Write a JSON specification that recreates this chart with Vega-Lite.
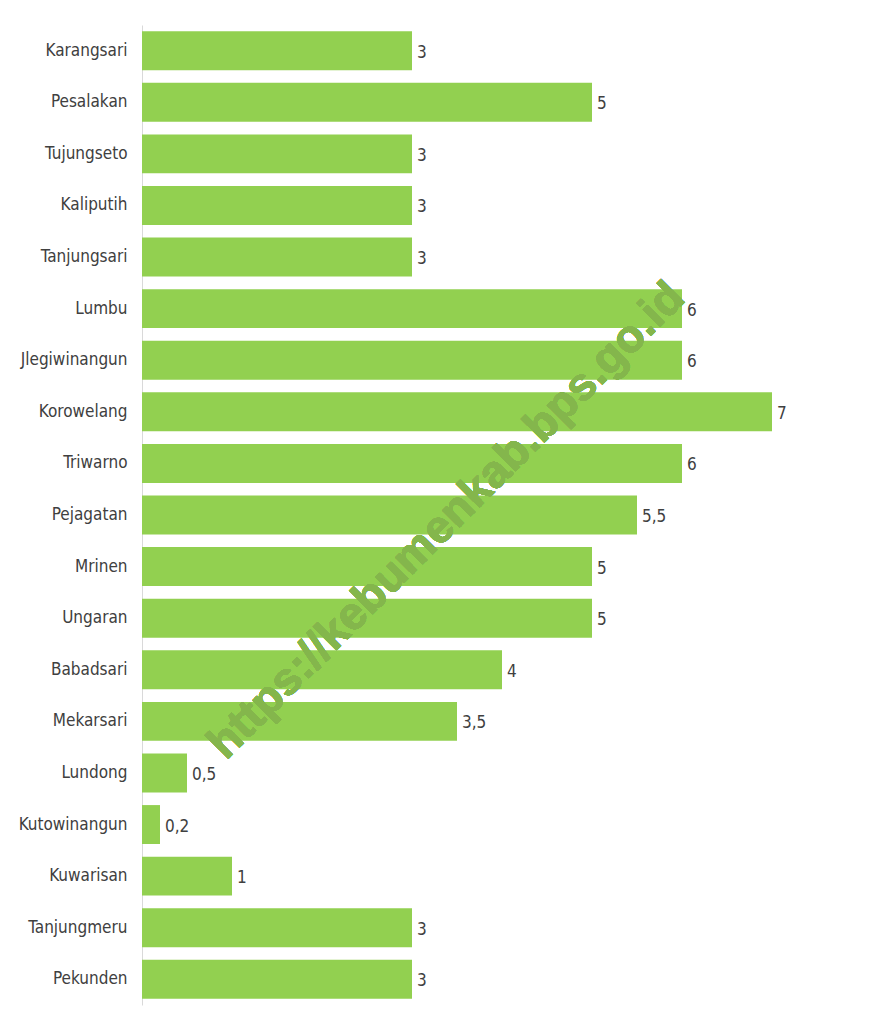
{
  "$schema": "https://vega.github.io/schema/vega-lite/v6.json",
  "width": 720,
  "height": 980,
  "autosize": {"type": "none"},
  "padding": {"left": 142, "top": 25, "right": 9, "bottom": 20},
  "background": "white",
  "config": {
    "view": {"stroke": null},
    "locale": {"number": {"decimal": ",", "thousands": ".", "grouping": [3], "currency": ["", ""]}}
  },
  "data": {
    "values": [
      {"desa": "Karangsari", "nilai": 3},
      {"desa": "Pesalakan", "nilai": 5},
      {"desa": "Tujungseto", "nilai": 3},
      {"desa": "Kaliputih", "nilai": 3},
      {"desa": "Tanjungsari", "nilai": 3},
      {"desa": "Lumbu", "nilai": 6},
      {"desa": "Jlegiwinangun", "nilai": 6},
      {"desa": "Korowelang", "nilai": 7},
      {"desa": "Triwarno", "nilai": 6},
      {"desa": "Pejagatan", "nilai": 5.5},
      {"desa": "Mrinen", "nilai": 5},
      {"desa": "Ungaran", "nilai": 5},
      {"desa": "Babadsari", "nilai": 4},
      {"desa": "Mekarsari", "nilai": 3.5},
      {"desa": "Lundong", "nilai": 0.5},
      {"desa": "Kutowinangun", "nilai": 0.2},
      {"desa": "Kuwarisan", "nilai": 1},
      {"desa": "Tanjungmeru", "nilai": 3},
      {"desa": "Pekunden", "nilai": 3}
    ]
  },
  "encoding": {
    "y": {
      "field": "desa",
      "type": "nominal",
      "sort": null,
      "scale": {"paddingInner": 0.245, "paddingOuter": 0.12},
      "axis": {
        "title": null,
        "ticks": false,
        "domainColor": "#d9d9d9",
        "domainWidth": 1,
        "labelFont": "DejaVu Sans Condensed, Roboto, sans-serif",
        "labelFontSize": 17,
        "labelColor": "#404040",
        "labelPadding": 15
      }
    },
    "x": {
      "field": "nilai",
      "type": "quantitative",
      "scale": {"domain": [0, 8]},
      "axis": null
    }
  },
  "layer": [
    {"mark": {"type": "bar", "color": "#92d050"}},
    {
      "mark": {"type": "text", "align": "left", "baseline": "middle", "dx": 5, "dy": 2, "font": "DejaVu Sans Condensed, Roboto, sans-serif", "fontSize": 17, "color": "#404040"},
      "encoding": {"text": {"field": "nilai", "type": "quantitative", "format": "~g"}}
    },
    {
      "mark": {"type": "text", "angle": 315, "align": "center", "baseline": "middle", "font": "Liberation Sans", "fontWeight": "bold", "fontSize": 46, "dy": 8, "color": "#84b64c"},
      "encoding": {
        "x": {"datum": 3.32},
        "y": {"datum": "Pejagatan"},
        "text": {"value": "https://kebumenkab.bps.go.id"}
      }
    }
  ]
}
